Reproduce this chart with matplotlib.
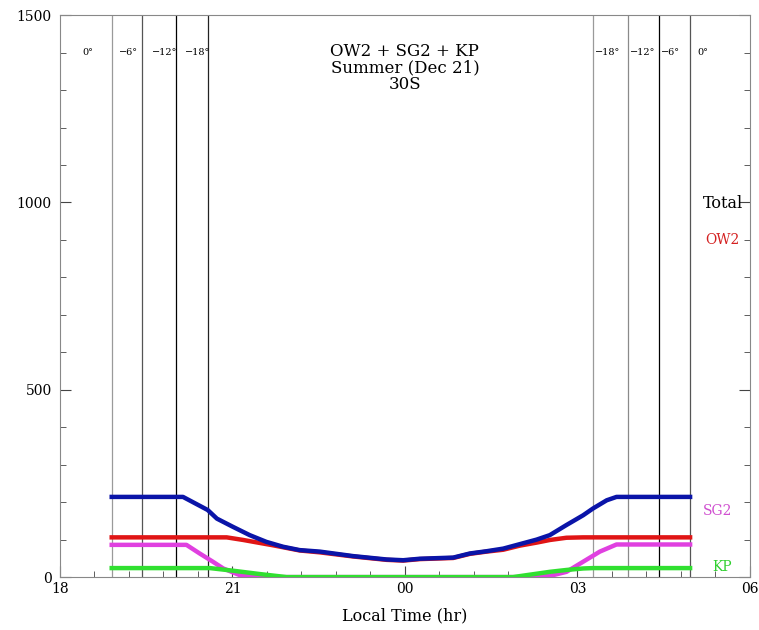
import numpy as np
import matplotlib
matplotlib.use("Agg")
import matplotlib.pyplot as plt

plt.rcParams['font.family'] = ['DejaVu Serif']

# local time in hours after 18:00 (24 = midnight, 27 = 03:00)
t_total = [18.90, 20.14, 20.57, 20.73, 21.01, 21.30, 21.59, 21.88, 22.17, 22.52,
           23.10, 23.68, 23.97, 24.26, 24.84, 25.13, 25.42, 25.71, 26.00, 26.29,
           26.52, 26.81, 27.10, 27.27, 27.51, 27.68, 28.96]
total = [214, 214, 179, 156, 134, 112, 94, 81, 72, 68,
         56, 47, 45, 49, 52, 63, 69, 76, 88, 100,
         112, 139, 165, 183, 205, 214, 214]

t_ow2 = [18.90, 20.90, 21.19, 21.48, 21.70, 22.17, 22.52, 23.10, 23.68, 23.97,
         24.26, 24.84, 25.13, 25.42, 25.71, 26.00, 26.29, 26.52, 26.81, 27.10, 28.96]
ow2 = [106, 106, 99, 91, 85, 71, 66, 55, 46, 44,
       48, 51, 62, 68, 73, 84, 92, 99, 105, 106, 106]

t_sg2 = [18.90, 20.20, 20.43, 20.66, 20.84, 21.13, 21.59, 26.20, 26.52, 26.81,
         27.10, 27.39, 27.68, 28.96]
sg2 = [86, 86, 63, 41, 23, 5, 0, 0, 3, 14, 41, 68, 87, 87]

t_kp = [18.90, 20.61, 21.01, 21.48, 21.94, 25.88, 26.52, 26.81, 27.10, 27.27, 28.96]
kp = [24, 24, 17, 8, 0, 0, 14, 19, 23, 24, 24]

# twilight lines (sun elevation)
twi_left = [18.90, 19.43, 20.02, 20.57]
twi_right = [27.27, 27.88, 28.42, 28.96]
lab_left = ['0°', '−6°', '−12°', '−18°']
lab_right = ['−18°', '−12°', '−6°', '0°']
lab_left_x = [18.49, 19.20, 19.82, 20.40]
lab_right_x = [27.53, 28.13, 28.62, 29.18]
col_left = ['#9a9a9a', '#555555', '#000000', '#222222']
col_right = ['#9a9a9a', '#8a8a8a', '#000000', '#555555']

xticks = [18, 21, 24, 27, 30]
xticklabels = ['18', '21', '00', '03', '06']

fig = plt.figure(figsize=(7.59, 6.3), dpi=100)
ax = fig.add_axes([0.079, 0.084, 0.909, 0.892])

for x, c in zip(twi_left + twi_right, col_left + col_right):
    ax.axvline(x, color=c, lw=0.9, zorder=1)
for x, s in zip(lab_left_x + lab_right_x, lab_left + lab_right):
    ax.text(x, 1400, s, fontsize=7, ha='center', va='center')

ax.plot(t_ow2, ow2, color='#e01515', lw=3.2, zorder=3)
ax.plot(t_sg2, sg2, color='#e040e0', lw=3.2, zorder=3)
ax.plot(t_kp, kp, color='#30e030', lw=3.2, zorder=4)
ax.plot(t_total, total, color='#0a14a8', lw=3.2, zorder=5)

ax.text(24, 1358, 'OW2 + SG2 + KP\nSummer (Dec 21)\n30S', ha='center', va='center',
        fontsize=12, linespacing=0.95)

ax.text(29.18, 997, 'Total', color='black', fontsize=11.5, va='center', clip_on=False)
ax.text(29.22, 899, 'OW2', color='#d42020', fontsize=10, va='center', clip_on=False)
ax.text(29.18, 176, 'SG2', color='#d050d0', fontsize=10, va='center', clip_on=False)
ax.text(29.34, 27, 'KP', color='#30d030', fontsize=10, va='center', clip_on=False)

ax.set_xlim(18, 30)
ax.set_ylim(0, 1500)
ax.set_xticks(xticks)
ax.set_xticklabels(xticklabels)
ax.set_xticks(np.arange(18, 30.01, 0.6), minor=True)
ax.set_yticks([0, 500, 1000, 1500])
ax.set_yticks(np.arange(0, 1501, 100), minor=True)
ax.tick_params(which='both', direction='in', right=True, labelsize=10, color='#444444')
ax.tick_params(which='major', length=8)
ax.tick_params(which='minor', length=4)
ax.tick_params(axis='y', pad=6)
for sp in ax.spines.values():
    sp.set_color('#888888')
ax.set_xlabel('Local Time (hr)', fontsize=11.5, labelpad=8)

fig.savefig('out.png', dpi=100)
